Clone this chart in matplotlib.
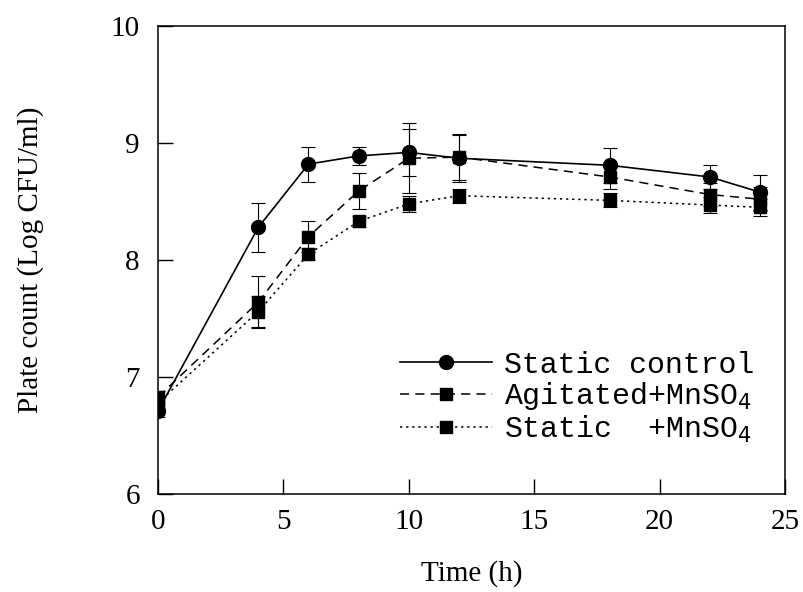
import matplotlib.pyplot as plt

# Время отбора проб, ч
time_h = [0, 4, 6, 8, 10, 12, 18, 22, 24]

# Static control
control_mean = [6.71, 8.28, 8.82, 8.89, 8.92, 8.87, 8.81, 8.71, 8.58]
control_err = [0.05, 0.21, 0.15, 0.08, 0.20, 0.20, 0.15, 0.10, 0.15]

# Agitated + MnSO4
agitated_mean = [6.83, 7.64, 8.20, 8.59, 8.87, 8.88, 8.71, 8.56, 8.52]
agitated_err = [0.05, 0.22, 0.13, 0.15, 0.30, 0.20, 0.10, 0.10, 0.10]

# Static + MnSO4
static_mn_mean = [6.78, 7.56, 8.05, 8.33, 8.48, 8.55, 8.51, 8.47, 8.45]
static_mn_err = [0.05, 0.13, 0.05, 0.05, 0.07, 0.06, 0.06, 0.07, 0.07]

x_ticks = [0, 5, 10, 15, 20, 25]
y_ticks = [6, 7, 8, 9, 10]

serif = ['Liberation Serif', 'DejaVu Serif']
mono = ['Liberation Mono', 'DejaVu Sans Mono']

fig = plt.figure(figsize=(8.04, 5.92), dpi=100)
ax = fig.add_axes([0.1965, 0.1655, 0.78, 0.7905])

err_style = dict(capsize=5, elinewidth=0.8, capthick=0.8, ecolor='black')

eb1 = ax.errorbar(time_h, control_mean, yerr=control_err, color='black', linestyle='-',
                  linewidth=1.2, marker='o', markersize=10, **err_style)
eb2 = ax.errorbar(time_h, agitated_mean, yerr=agitated_err, color='black', linestyle=(0, (6, 4)),
                  linewidth=1.1, marker='s', markersize=8, **err_style)
eb3 = ax.errorbar(time_h, static_mn_mean, yerr=static_mn_err, color='black', linestyle=(0, (1.5, 2.5)),
                  linewidth=1.1, marker='s', markersize=8, **err_style)

ax.set_xlim(0, 25)
ax.set_ylim(6, 10)
ax.set_xticks(x_ticks)
ax.set_yticks(y_ticks)
ax.tick_params(direction='in', length=11, width=1, labelsize=21, top=False, right=False)
ax.tick_params(axis='x', pad=11)
ax.tick_params(axis='y', pad=13)
for lbl in ax.get_xticklabels() + ax.get_yticklabels():
    lbl.set_family(serif)

for side in ['left', 'bottom', 'right', 'top']:
    ax.spines[side].set_linewidth(1.1)

ax.set_xlabel('Time (h)', family=serif, fontsize=21, labelpad=18)
ax.set_ylabel('Plate count (Log CFU/ml)', family=serif, fontsize=21, labelpad=48)

# В легенде только линия с маркером, без планок погрешности
handles = [eb1[0], eb2[0], eb3[0]]
labels = ['Static control', 'Agitated+MnSO$_4$', 'Static  +MnSO$_4$']
ax.legend(handles, labels, loc='upper left', bbox_to_anchor=(0.362, 0.338), frameon=False,
          prop={'family': mono, 'size': 21.5}, handlelength=3.07,
          handletextpad=0.4, borderpad=0, labelspacing=0.05, numpoints=1)

fig.savefig('out.png', dpi=100)
